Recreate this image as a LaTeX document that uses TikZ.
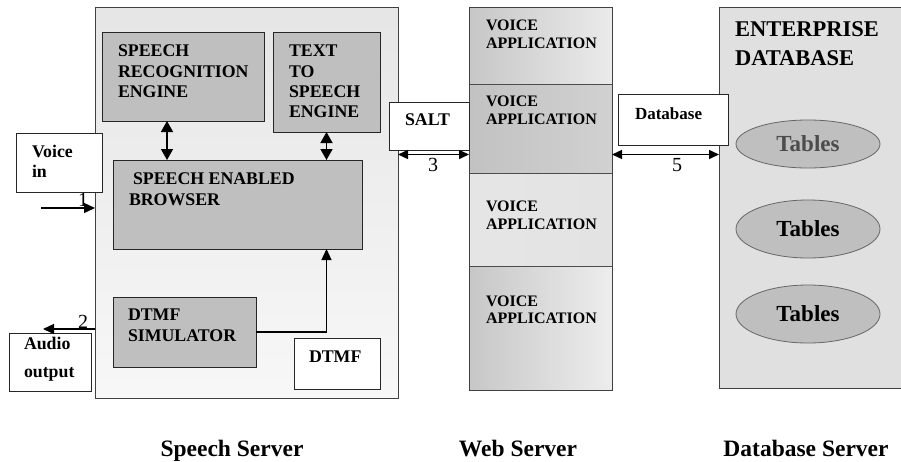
\documentclass[tikz,border=0pt]{standalone}
\usepackage{fontspec}
\setmainfont{Liberation Serif}
\usetikzlibrary{arrows.meta,calc,shapes.geometric}
\begin{document}
\begin{tikzpicture}[x=1pt,y=-1pt,
  box/.style={draw=black!85,line width=0.9pt,inner sep=0pt,outer sep=0pt,anchor=north west},
  graybox/.style={box,fill=black!25},
  whitebox/.style={box,fill=white},
  lbl/.style={inner sep=0pt,outer sep=0pt,anchor=north west,align=left,font=\bfseries\fontsize{17.8}{20.2}\selectfont},
  valbl/.style={inner sep=0pt,outer sep=0pt,anchor=north west,align=left,font=\bfseries\fontsize{16}{17.7}\selectfont},
  num/.style={inner sep=0pt,font=\fontsize{20}{24}\selectfont},
  captxt/.style={inner sep=0pt,anchor=base,font=\bfseries\fontsize{23.5}{28}\selectfont},
  tbl/.style={ellipse,draw=black!60,line width=0.8pt,fill=black!25,inner sep=0pt,minimum width=144pt,font=\bfseries\fontsize{23}{28}\selectfont},
  vdbl/.style={{Triangle[length=11pt,width=12pt]}-{Triangle[length=11pt,width=12pt]},line width=1.5pt},
  hdbl/.style={{Triangle[length=10pt,width=9pt]}-{Triangle[length=10pt,width=9pt]},line width=1.5pt},
  sgl/.style={-{Triangle[length=11pt,width=10pt]},line width=1.3pt}
]
\clip (0,0) rectangle (901,461);
\fill[white] (0,0) rectangle (901,461);

% Speech server
\node[box,draw=black!75,minimum width=303pt,minimum height=391pt,top color=black!10,bottom color=black!3] (speech) at (95,7) {};
\node[graybox,minimum width=162pt,minimum height=89pt] (sre) at (102,32) {};
\node[graybox,minimum width=107pt,minimum height=100pt] (tts) at (273,32) {};
\node[graybox,minimum width=249pt,minimum height=89pt] (seb) at (113,160) {};
\node[graybox,minimum width=143pt,minimum height=70pt] (sim) at (113,297) {};
\node[whitebox,minimum width=86pt,minimum height=51pt] (dtmf) at (294,338) {};

\node[lbl] (sret) at (118,45.2) {SPEECH\\RECOGNITION\\ENGINE};
\node[lbl] (ttst) at (289,45.2) {TEXT\\TO\\SPEECH\\ENGINE};
\node[lbl,font=\bfseries\fontsize{17.8}{21}\selectfont] (sebt) at (129,173.2) {\hspace*{4pt}SPEECH ENABLED\\BROWSER};
\node[lbl,font=\bfseries\fontsize{17.8}{21}\selectfont] (simt) at (128,309.2) {DTMF\\SIMULATOR};
\node[lbl] (dtmft) at (309,351.2) {DTMF};

% Voice in / Audio output
\node[whitebox,minimum width=86pt,minimum height=59pt] (vinb) at (16,133) {};
\node[lbl] (vint) at (32,145.2) {Voice\\in};
\node[whitebox,minimum width=82pt,minimum height=58pt] (aoutb) at (9,333) {};
\node[lbl,font=\bfseries\fontsize{17.8}{28}\selectfont] (aoutt) at (24,337.6) {Audio\\output};

% Web server column
\node[box,draw=black!70,minimum width=143pt,minimum height=77pt,left color=black!22,right color=black!8] (va1) at (469,7) {};
\node[box,draw=black!70,minimum width=143pt,minimum height=89pt,left color=black!24,right color=black!18] (va2) at (469,84) {};
\node[box,draw=black!70,minimum width=143pt,minimum height=93pt,left color=black!10,right color=black!11] (va3) at (469,173) {};
\node[box,draw=black!70,minimum width=143pt,minimum height=124pt,left color=black!22,right color=black!7] (va4) at (469,266) {};
\node[box,draw=black!75,fill=none,minimum width=143pt,minimum height=383pt] (web) at (469,7) {};
\node[valbl] (va1t) at (486,20.4) {VOICE\\APPLICATION};
\node[valbl] (va2t) at (486,96.4) {VOICE\\APPLICATION};
\node[valbl] (va3t) at (486,201.4) {VOICE\\APPLICATION};
\node[valbl] (va4t) at (486,295.4) {VOICE\\APPLICATION};

% Database server
\node[box,draw=black!75,fill=black!12,minimum width=190pt,minimum height=381pt] (dbs) at (719,7) {};
\node[lbl,font=\bfseries\fontsize{22.5}{28.5}\selectfont] (dbst) at (735,22) {ENTERPRISE\\DATABASE};
\node[tbl,minimum height=48pt,text=black!70] (e1) at (808,144) {Tables};
\node[tbl,minimum height=58pt] (e2) at (808,229) {Tables};
\node[tbl,minimum height=58pt] (e3) at (808,314) {Tables};

% SALT / Database boxes
\node[whitebox,minimum width=80pt,minimum height=48pt] (salt) at (389,102) {};
\node[lbl] (saltt) at (405,113.4) {SALT};
\node[whitebox,minimum width=110pt,minimum height=51pt] (dbb) at (618,94) {};
\node[lbl,font=\bfseries\fontsize{17}{20}\selectfont] (dbbt) at (635,107.4) {Database};

% connectors inside speech server
\draw[vdbl] ([xshift=65pt]sre.south west) -- ([xshift=65pt]sre.south west |- seb.north);
\draw[vdbl] (tts.south) -- (tts.south |- seb.north);
\draw[sgl] (sim.east) -- (sim.east -| tts.south) -- (tts.south |- seb.south);

% 1 and 2
\coordinate (vin) at (41,208);
\coordinate (aout) at (43,329);
\draw[sgl] (vin) -- (vin -| speech.west);
\draw[sgl] (aout -| speech.west) -- (aout);
\node[num] (n1) at (83,200) {1};
\node[num] (n2) at (83,322) {2};

% 3 and 5
\coordinate (lvl) at (0,154.5);
\draw[hdbl] (lvl -| speech.east) -- (lvl -| web.west);
\draw[hdbl] (lvl -| web.east) -- (lvl -| dbs.west);
\node[num] (n3) at (433,165) {3};
\node[num] (n5) at (677,165) {5};

% captions
\node[captxt] (c1) at (232,456) {Speech Server};
\node[captxt] (c2) at (518,456) {Web Server};
\node[captxt] (c3) at (806,456) {Database Server};
\end{tikzpicture}
\end{document}
